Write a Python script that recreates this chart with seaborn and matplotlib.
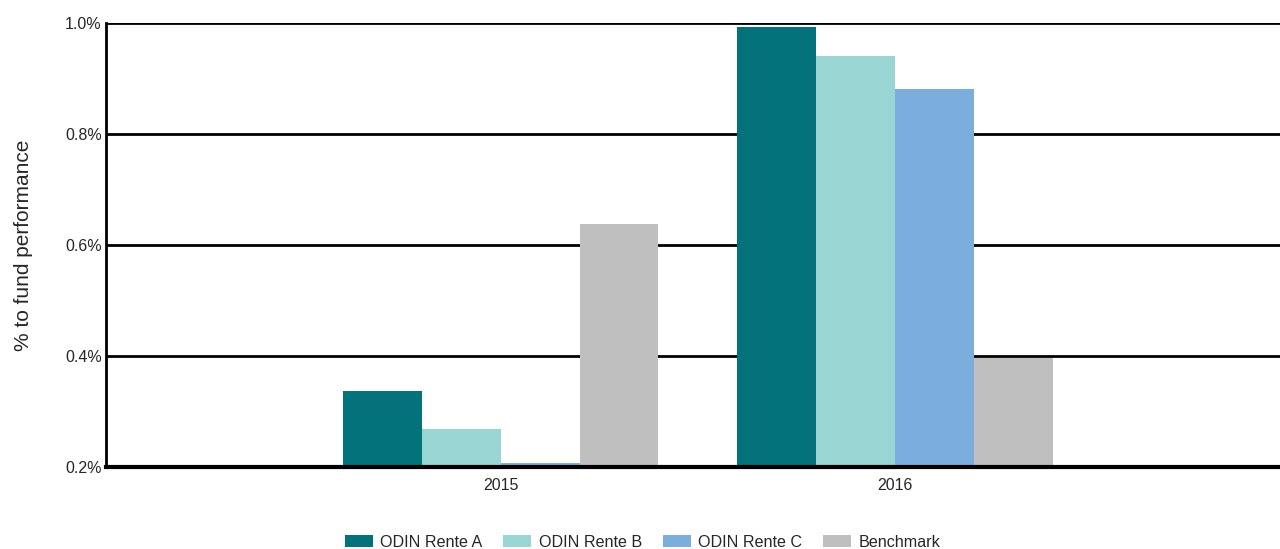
import matplotlib
matplotlib.use("Agg")
import matplotlib.pyplot as plt
import seaborn as sns
import pandas as pd

# Attribution data (% contribution to fund performance)
years = ["2015", "2016"]
series = ["ODIN Rente A", "ODIN Rente B", "ODIN Rente C", "Benchmark"]
rente_a = [0.337, 0.993]
rente_b = [0.268, 0.940]
rente_c = [0.207, 0.881]
benchmark = [0.638, 0.396]
y_ticks = [0.2, 0.4, 0.6, 0.8, 1.0]
colors = ["#03727A", "#99D5D2", "#7BAEDD", "#BFBFBF"]

rows = []
for name, vals in zip(series, [rente_a, rente_b, rente_c, benchmark]):
    for yr, v in zip(years, vals):
        rows.append({"year": yr, "series": name, "value": v})
df = pd.DataFrame(rows)

sns.set_theme(style="white")
plt.rcParams["font.family"] = ["Liberation Sans", "DejaVu Sans"]

fig = plt.figure(figsize=(12.8, 5.49), dpi=100)
ax = fig.add_axes([0.0828, 0.1494, 0.9172, 0.8087])

sns.barplot(data=df, x="year", y="value", hue="series", order=years,
            hue_order=series, palette=colors, width=0.8, saturation=1,
            errorbar=None, ax=ax, legend=True, linewidth=0, zorder=3)

ax.set_ylim(0.2, 1.0)
ax.set_xlim(-1.0, 1.975)
ax.set_yticks(y_ticks)
ax.set_yticklabels([f"{t:.1f}%" for t in y_ticks], fontsize=11.5)
ax.tick_params(axis="x", labelsize=11.5, length=0, pad=8)
ax.tick_params(axis="y", length=0, pad=3)
ax.yaxis.grid(True, color="black", linewidth=2)
ax.set_axisbelow(True)

for s in ["top", "right"]:
    ax.spines[s].set_visible(False)
ax.spines["left"].set_color("black")
ax.spines["left"].set_linewidth(2)
ax.spines["bottom"].set_color("black")
ax.spines["bottom"].set_linewidth(3)
ax.spines["bottom"].set_zorder(5)

ax.set_xlabel("")
ax.set_ylabel("% to fund performance", fontsize=15, labelpad=23)

handles, labels = ax.get_legend_handles_labels()
ax.get_legend().remove()
fig.legend(handles, labels, loc="lower center", bbox_to_anchor=(0.502, -0.028),
           ncol=4, frameon=False, fontsize=11.6, handlelength=1.75,
           handleheight=0.8, handletextpad=0.45, columnspacing=1.3)

fig.savefig("out.png", dpi=100)
